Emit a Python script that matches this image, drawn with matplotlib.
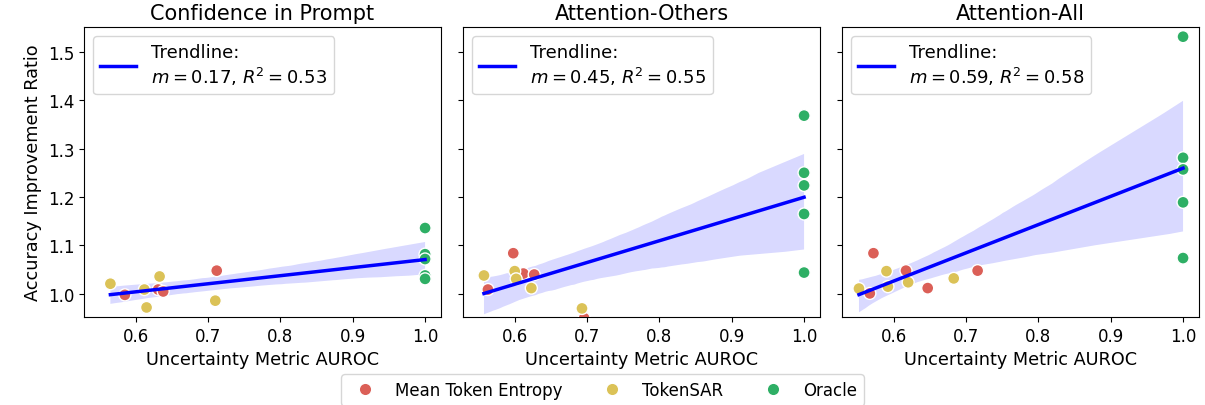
import numpy as np
import pandas as pd
import matplotlib
matplotlib.use("Agg")
import matplotlib.pyplot as plt
import seaborn as sns
from matplotlib.lines import Line2D

plt.rcParams['font.family'] = ['DejaVu Sans']

titles = ["Confidence in Prompt", "Attention-Others", "Attention-All"]
trend_labels = ["Trendline:\n$m = 0.17$, $R^2 = 0.53$",
                "Trendline:\n$m = 0.45$, $R^2 = 0.55$",
                "Trendline:\n$m = 0.59$, $R^2 = 0.58$"]
methods = ["Mean Token Entropy", "TokenSAR", "Oracle"]
colors = {"Mean Token Entropy": "#db5f57", "TokenSAR": "#dbc257", "Oracle": "#2eaf65"}

# Panel 1: Confidence in Prompt
p1_mte_x = [0.585, 0.631, 0.638, 0.712]
p1_mte_y = [0.998, 1.009, 1.005, 1.048]
p1_sar_x = [0.565, 0.612, 0.633, 0.615, 0.710]
p1_sar_y = [1.021, 1.009, 1.036, 0.972, 0.986]
p1_orc_x = [1.0, 1.0, 1.0, 1.0, 1.0]
p1_orc_y = [1.136, 1.082, 1.072, 1.038, 1.031]

# Panel 2: Attention-Others
p2_mte_x = [0.563, 0.598, 0.612, 0.627, 0.696]
p2_mte_y = [1.009, 1.084, 1.042, 1.040, 0.950]
p2_sar_x = [0.5575, 0.600, 0.602, 0.623, 0.693]
p2_sar_y = [1.038, 1.047, 1.031, 1.012, 0.970]
p2_orc_x = [1.0, 1.0, 1.0, 1.0, 1.0]
p2_orc_y = [1.368, 1.250, 1.224, 1.165, 1.044]

# Panel 3: Attention-All
p3_mte_x = [0.567, 0.572, 0.617, 0.647, 0.716]
p3_mte_y = [1.001, 1.084, 1.048, 1.012, 1.048]
p3_sar_x = [0.552, 0.590, 0.592, 0.620, 0.683]
p3_sar_y = [1.011, 1.047, 1.015, 1.024, 1.032]
p3_orc_x = [1.0, 1.0, 1.0, 1.0, 1.0]
p3_orc_y = [1.531, 1.281, 1.257, 1.189, 1.074]

panels = [
    (p1_mte_x, p1_mte_y, p1_sar_x, p1_sar_y, p1_orc_x, p1_orc_y),
    (p2_mte_x, p2_mte_y, p2_sar_x, p2_sar_y, p2_orc_x, p2_orc_y),
    (p3_mte_x, p3_mte_y, p3_sar_x, p3_sar_y, p3_orc_x, p3_orc_y),
]

fig, axes = plt.subplots(1, 3, figsize=(12.05, 4.06), dpi=100, sharex=True, sharey=True)
fig.subplots_adjust(left=0.0697, right=0.995, top=0.931, bottom=0.217, wspace=0.0616)

for i, (ax, pdata) in enumerate(zip(axes, panels)):
    mx, my, sx, sy, ox, oy = pdata
    df = pd.DataFrame({
        "x": list(mx) + list(sx) + list(ox),
        "y": list(my) + list(sy) + list(oy),
        "method": [methods[0]] * len(mx) + [methods[1]] * len(sx) + [methods[2]] * len(ox),
    })
    sns.scatterplot(data=df, x="x", y="y", hue="method", palette=colors, ax=ax,
                    s=75, edgecolor="white", linewidth=1, legend=False, zorder=3)
    sns.regplot(data=df, x="x", y="y", ax=ax, scatter=False, color="blue", seed=0,
                line_kws={"lw": 2.5, "zorder": 4})
    ax.set_title(titles[i], fontsize=15)
    ax.set_xlabel("Uncertainty Metric AUROC", fontsize=12.7)
    ax.set_ylabel("Accuracy Improvement Ratio" if i == 0 else "", fontsize=12.7)
    ax.tick_params(labelsize=12)
    h = Line2D([], [], color="blue", lw=2.5)
    ax.legend([h], [trend_labels[i]], loc="upper left", fontsize=13)

axes[0].set_xlim(0.5285, 1.022)
axes[0].set_ylim(0.9525, 1.551)
axes[0].set_xticks([0.6, 0.7, 0.8, 0.9, 1.0])
axes[0].set_yticks([1.0, 1.1, 1.2, 1.3, 1.4, 1.5])

handles = [Line2D([], [], marker="o", ls="", color=colors[m], markeredgecolor="white",
                  markersize=9) for m in methods]
fig.legend(handles, methods, loc="upper center", bbox_to_anchor=(0.5, 1 - 367 / 406),
           ncol=3, fontsize=12)

fig.savefig("out.png", dpi=100)
